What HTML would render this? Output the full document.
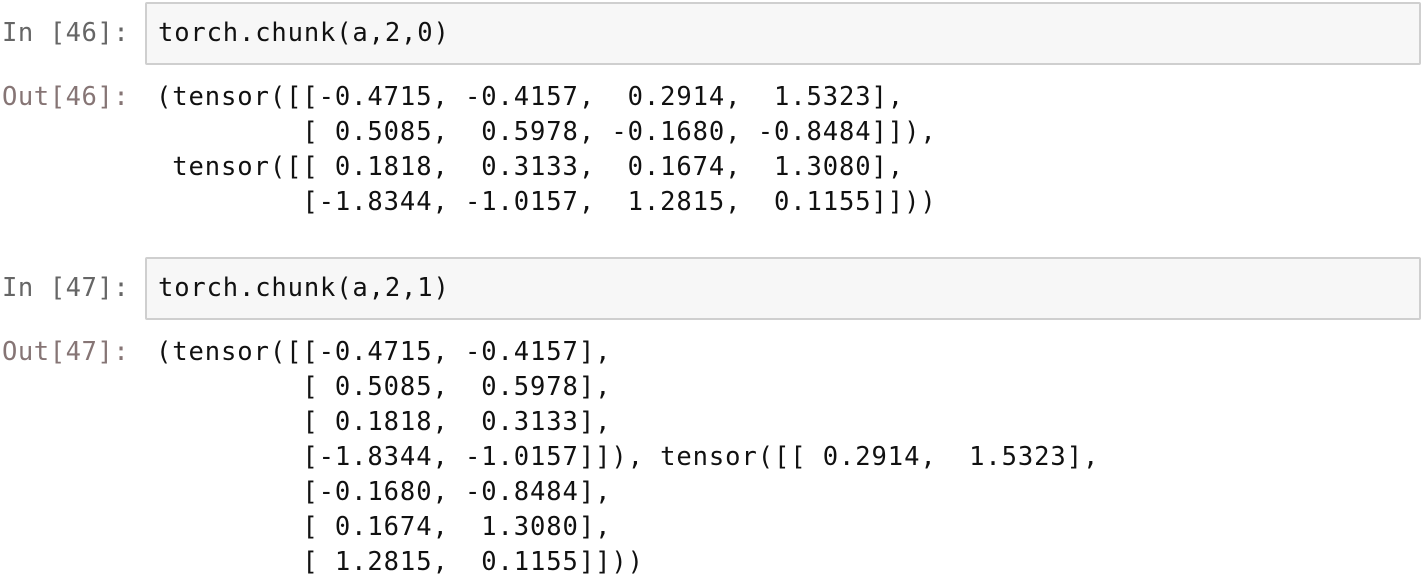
<!DOCTYPE html>
<html lang="en">
<head>
<meta charset="utf-8">
<title>torch.chunk notebook output</title>
<style>
  html, body { margin: 0; padding: 0; background: #fff; }
  #page { position: relative; width: 1425px; height: 580px; overflow: hidden; background: #fff; }
  pre, .prompt {
    position: absolute; margin: 0; white-space: pre;
    font-family: "DejaVu Sans Mono", "Liberation Mono", monospace;
    font-size: 25.5px; line-height: 35px; letter-spacing: 0.91px; color: #111;
    filter: blur(0.35px);
  }
  pre.code { letter-spacing: 0.85px; }
  .prompt { left: 2px; letter-spacing: 0.55px; }
  .in { color: #666; }
  .out { color: #867575; }
  .box {
    position: absolute; left: 145px; width: 1272px; height: 59px;
    background: #f7f7f7; border: 2px solid #cfcfcf; border-radius: 2px;
  }
</style>
</head>
<body>
<div id="page">
  <div class="prompt in" style="top:16px">In [46]:</div>
  <div class="box" style="top:2px"></div>
  <pre class="code" style="left:158px;top:16px">torch.chunk(a,2,0)</pre>

  <div class="prompt out" style="top:80px">Out[46]:</div>
  <pre style="left:156px;top:80px">(tensor([[-0.4715, -0.4157,  0.2914,  1.5323],
         [ 0.5085,  0.5978, -0.1680, -0.8484]]),
 tensor([[ 0.1818,  0.3133,  0.1674,  1.3080],
         [-1.8344, -1.0157,  1.2815,  0.1155]]))</pre>

  <div class="prompt in" style="top:271px">In [47]:</div>
  <div class="box" style="top:257px"></div>
  <pre class="code" style="left:158px;top:271px">torch.chunk(a,2,1)</pre>

  <div class="prompt out" style="top:335px">Out[47]:</div>
  <pre style="left:156px;top:335px">(tensor([[-0.4715, -0.4157],
         [ 0.5085,  0.5978],
         [ 0.1818,  0.3133],
         [-1.8344, -1.0157]]), tensor([[ 0.2914,  1.5323],
         [-0.1680, -0.8484],
         [ 0.1674,  1.3080],
         [ 1.2815,  0.1155]]))</pre>
</div>
</body>
</html>
